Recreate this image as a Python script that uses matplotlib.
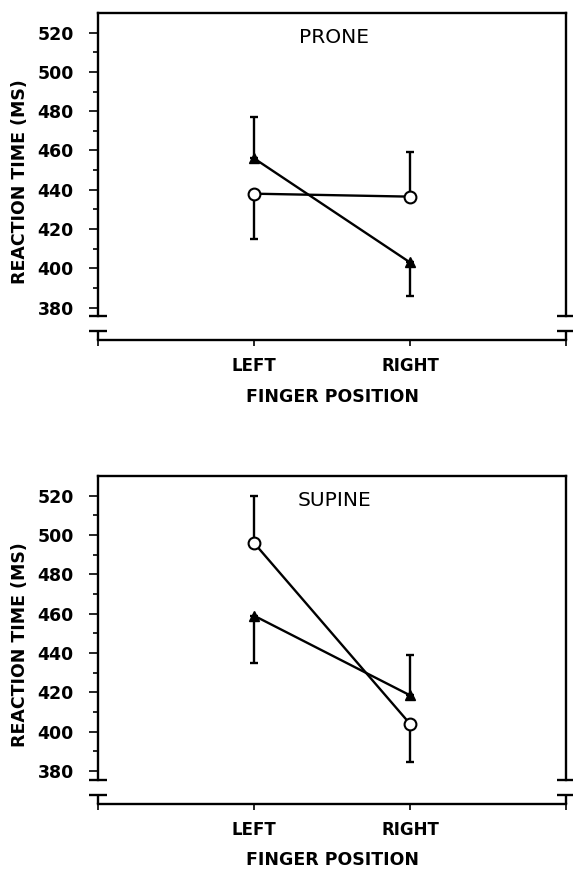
import matplotlib
matplotlib.use("Agg")
import matplotlib.pyplot as plt

# data
positions = [1, 2]
position_labels = ["LEFT", "RIGHT"]

prone_circle = [438, 436.5]
prone_circle_err_low = [23, 0]
prone_circle_err_high = [0, 22.5]
prone_triangle = [456, 403]
prone_triangle_err_low = [0, 17]
prone_triangle_err_high = [21, 0]

supine_circle = [496, 404]
supine_circle_err_low = [0, 19.5]
supine_circle_err_high = [24, 0]
supine_triangle = [459, 418.5]
supine_triangle_err_low = [24, 0]
supine_triangle_err_high = [0, 20.5]

y_ticks = [380, 400, 420, 440, 460, 480, 500, 520]
y_minor = [390, 410, 430, 450, 470, 490, 510]

plt.rcParams['font.family'] = 'DejaVu Sans'

fig = plt.figure(figsize=(5.73, 8.73), dpi=100)
W, H = 573.0, 873.0


def panel(top_px, bottom_px, title, circle, c_lo, c_hi, tri, t_lo, t_hi):
    ax = fig.add_axes([98 / W, 1 - bottom_px / H, 468 / W, (bottom_px - top_px) / H])
    y0, y1 = 363.5, 530
    brk, tee = 375.5, 368
    ax.set_xlim(0, 3)
    ax.set_ylim(y0, y1)

    kw = dict(color='black', lw=1.7, clip_on=False, solid_capstyle='butt')
    ax.errorbar(positions, circle, yerr=[c_lo, c_hi], fmt='none', ecolor='black',
                elinewidth=1.7, capsize=3.2, capthick=1.7)
    ax.errorbar(positions, tri, yerr=[t_lo, t_hi], fmt='none', ecolor='black',
                elinewidth=1.7, capsize=3.2, capthick=1.7)
    ax.plot(positions, circle, color='black', lw=1.7, marker='o', ms=8.5,
            mfc='white', mec='black', mew=1.5, zorder=5)
    ax.plot(positions, tri, color='black', lw=1.7, marker='^', ms=7,
            mfc='black', mec='black', zorder=5)

    # broken y axis on both sides
    ax.spines['left'].set_bounds(brk, y1)
    ax.spines['right'].set_bounds(brk, y1)
    for s in ['left', 'right', 'top', 'bottom']:
        ax.spines[s].set_linewidth(1.7)
    dx = 0.055
    for xs in (0, 3):
        ax.plot([xs - dx, xs + dx], [brk, brk], **kw)
        ax.plot([xs - dx, xs + dx], [tee, tee], **kw)
        ax.plot([xs, xs], [tee, y0], **kw)

    ax.set_xticks([0, 1, 2, 3])
    ax.set_xticklabels([''] + position_labels + [''])
    ax.set_yticks(y_ticks)
    ax.set_yticks(y_minor, minor=True)
    ax.tick_params(axis='y', which='major', direction='out', length=6.5, width=1.2,
                   pad=11, labelsize=12.5)
    ax.tick_params(axis='y', which='minor', direction='out', length=3.5, width=1.2)
    ax.tick_params(axis='x', direction='out', length=4.5, width=1.2, pad=8, labelsize=12)
    for lab in ax.get_yticklabels() + ax.get_xticklabels():
        lab.set_fontweight('bold')

    ax.set_xlabel('FINGER POSITION', fontsize=12.5, fontweight='bold', labelpad=9)
    ax.set_ylabel('REACTION TIME (MS)', fontsize=12.5, fontweight='bold')
    ax.yaxis.set_label_coords(-0.147, 0.485)
    ax.text(0.505, 0.925, title, transform=ax.transAxes, ha='center', va='center',
            fontsize=14.5)
    return ax


panel(13, 340, 'PRONE', prone_circle, prone_circle_err_low, prone_circle_err_high,
      prone_triangle, prone_triangle_err_low, prone_triangle_err_high)
panel(476, 803.5, 'SUPINE', supine_circle, supine_circle_err_low, supine_circle_err_high,
      supine_triangle, supine_triangle_err_low, supine_triangle_err_high)

fig.savefig('out.png', dpi=100)
